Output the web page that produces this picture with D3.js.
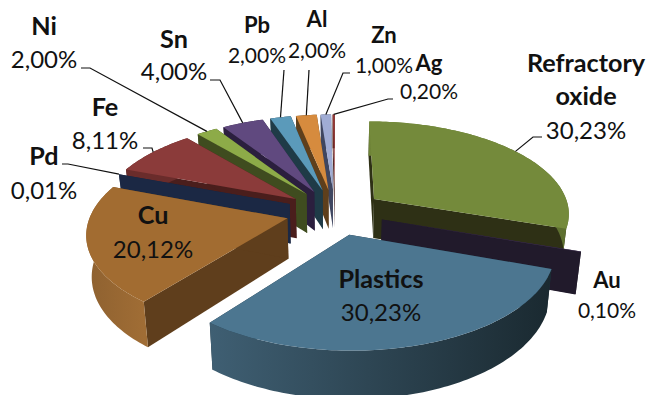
<!DOCTYPE html>
<html>
<head>
<meta charset="utf-8">
<script src="https://cdnjs.cloudflare.com/ajax/libs/d3/7.8.5/d3.min.js"></script>
<style>
  html, body { margin: 0; padding: 0; background: #fff; }
  svg { display: block; }
  text { font-family: Lato, "Open Sans", sans-serif; fill: #111; text-anchor: middle; }
  .name { font-weight: 700; }
</style>
</head>
<body>
<svg id="chart" width="647" height="395"></svg>
<script>
// Composition shares, clockwise from twelve o'clock.
const materials = ["Refractory oxide", "Au", "Plastics", "Cu", "Pd", "Fe", "Ni", "Sn", "Pb", "Al", "Zn", "Ag"];
const shares = [30.23, 0.10, 30.23, 20.12, 0.01, 8.11, 2.00, 4.00, 2.00, 2.00, 1.00, 0.20];

// Slice colours: top face, radial wall, and the rim wall's left and right ends.
const topColours  = ["#748a3b", "#403152", "#4c7690", "#a26c31", "#1a2f52", "#8b3b3a", "#8dab48", "#60497f", "#5b9aba", "#d68b3e", "#a0acd4", "#953735"];
const wallColours = ["#2e3015", "#211a2b", "#1f3440", "#5f3e1c", "#1b2844", "#4a1e1c", "#3f4c1f", "#2b1f3e", "#1f3b47", "#5e3f1c", "#3f4660", "#3f1715"];
const rimLeft     = ["#6f8438", "#211a2b", "#3f5f73", "#8e6130", "#1b2844", "#6a2c2b", "#3f4c1f", "#2b1f3e", "#1f3b47", "#5e3f1c", "#3f4660", "#3f1715"];
const rimRight    = ["#5d6f2f", "#211a2b", "#1a2930", "#a06d35", "#1b2844", "#6a2c2b", "#3f4c1f", "#2b1f3e", "#1f3b47", "#5e3f1c", "#3f4660", "#3f1715"];

// Back-to-front painting order, as indexes into the arrays above.
const paintOrder = [11, 10, 9, 8, 7, 6, 5, 4, 3, 0, 1, 2];

// Label placement: centre x, baseline of each line, font size, optional leader elbow.
const labelLayout = [
  { x: 586, names: [72, 105], value: 139, size: 24, leader: [[542, 137], [533, 137]] },
  { x: 607, names: [288], value: 318, size: 21 },
  { x: 381, names: [288], value: 321, size: 24 },
  { x: 153, names: [224], value: 258, size: 24 },
  { x: 44,  names: [165], value: 199, size: 24, leader: [[62, 164], [68, 164]] },
  { x: 105, names: [116], value: 149, size: 24, leader: [[143, 148], [152, 148]] },
  { x: 44,  names: [35],  value: 68,  size: 24, leader: [[81, 68], [90, 68]] },
  { x: 174, names: [48],  value: 80,  size: 24, leader: [[210, 80], [220, 80]] },
  { x: 257, names: [33],  value: 63,  size: 21, leader: [[284, 70]] },
  { x: 317, names: [27],  value: 58,  size: 21, leader: [[309, 70]] },
  { x: 384, names: [43],  value: 73,  size: 21, leader: [[350, 73], [343, 73]] },
  { x: 429, names: [71],  value: 99,  size: 21, leader: [[393, 99], [388, 99]] }
];

const width = 647, height = 395;
const explode = 0.25;      // radial pull of every slice, in pie radii
const focal = 7;           // camera distance, in pie radii
const wallDepth = 40;      // pie thickness in pixels at unit perspective
const wallTaper = 0.978;   // vertical edges converge toward the floor
const centreX = 335;

const svg = d3.select("#chart");
const defs = svg.append("defs");

const scaleX = d3.scaleLinear().domain([-1, 1]).range([centreX - 196, centreX + 196]);
const scaleY = d3.scaleLinear().domain([-1, 1]).range([212 - 92, 212 + 92]);

const slices = d3.pie().sort(null).value(d => d)(shares);

// Ground-plane point (radius r, clockwise angle a) on an exploded slice,
// dropped by `drop` wall thicknesses and seen through the camera.
function project(slice, r, a, drop) {
  const mid = (slice.startAngle + slice.endAngle) / 2;
  const wx = r * Math.sin(a) + explode * Math.sin(mid);
  const wz = -r * Math.cos(a) - explode * Math.cos(mid);
  const s = focal / (focal - wz);
  const taper = drop ? wallTaper : 1;
  return [centreX + (scaleX(wx * s) - centreX) * taper, scaleY(wz * s) + drop * wallDepth * s];
}

const outline = d3.line().curve(d3.curveLinear);

function rimAngles(slice) {
  const steps = Math.max(2, Math.ceil((slice.endAngle - slice.startAngle) / 0.02));
  return d3.range(steps + 1).map(i => slice.startAngle + (slice.endAngle - slice.startAngle) * i / steps);
}

const plot = svg.append("g");

paintOrder.forEach(i => {
  const slice = slices[i];
  const angles = rimAngles(slice);
  const rimTop = angles.map(a => project(slice, 1, a, 0));
  const rimBottom = angles.map(a => project(slice, 1, a, 1)).reverse();
  const apexTop = project(slice, 0, 0, 0);
  const apexBottom = project(slice, 0, 0, 1);
  const g = plot.append("g").attr("class", "slice");

  // Radial walls at both ends of the slice.
  [[rimTop[0], rimBottom[rimBottom.length - 1]], [rimTop[rimTop.length - 1], rimBottom[0]]].forEach(([a, b]) => {
    g.append("path")
      .attr("d", outline([apexTop, a, b, apexBottom]) + "Z")
      .attr("fill", wallColours[i]);
  });

  // Rim wall, shaded from left to right.
  const gradId = "rim" + i;
  const xs = rimTop.map(p => p[0]);
  const grad = defs.append("linearGradient").attr("id", gradId)
    .attr("gradientUnits", "userSpaceOnUse")
    .attr("x1", d3.min(xs)).attr("x2", d3.max(xs)).attr("y1", 0).attr("y2", 0);
  grad.append("stop").attr("offset", 0).attr("stop-color", rimLeft[i]);
  grad.append("stop").attr("offset", 1).attr("stop-color", rimRight[i]);
  g.append("path")
    .attr("d", outline(rimTop.concat(rimBottom)) + "Z")
    .attr("fill", `url(#${gradId})`);

  // Top face.
  g.append("path")
    .attr("d", outline([apexTop].concat(rimTop)) + "Z")
    .attr("fill", topColours[i]);
});

// Leader lines run from the text to the middle of each slice's rim.
const annotations = svg.append("g");
labelLayout.forEach((lay, i) => {
  if (!lay.leader) return;
  const slice = slices[i];
  const end = project(slice, 1, (slice.startAngle + slice.endAngle) / 2, 0);
  annotations.append("path")
    .attr("d", outline(lay.leader.concat([end])))
    .attr("fill", "none").attr("stroke", "#111").attr("stroke-width", 1.2);
});

const percent = v => d3.format(".2f")(v).replace(".", ",") + "%";
const nameLines = ["Refractory", "oxide"];

labelLayout.forEach((lay, i) => {
  const lines = lay.names.length > 1 ? nameLines : [materials[i]];
  lines.forEach((line, k) => {
    annotations.append("text").attr("class", "name")
      .attr("x", lay.x).attr("y", lay.names[k])
      .attr("font-size", lay.size * 1.05)
      .text(line);
  });
  annotations.append("text")
    .attr("x", lay.x).attr("y", lay.value)
    .attr("font-size", lay.size)
    .text(percent(shares[i]));
});
</script>
</body>
</html>
